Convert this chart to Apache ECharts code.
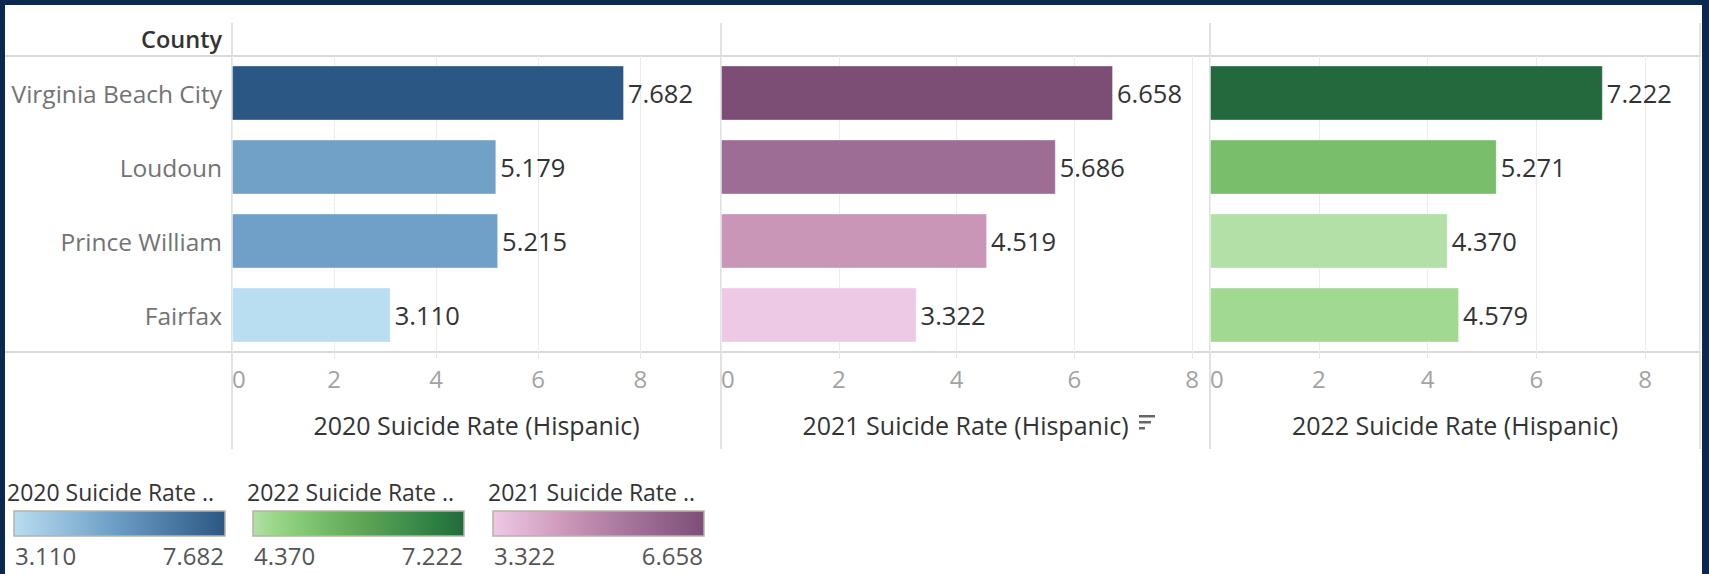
<!DOCTYPE html>
<html>
<head>
<meta charset="utf-8">
<script src="https://cdn.jsdelivr.net/npm/echarts@6/dist/echarts.min.js"></script>
<style>
  html, body { margin: 0; padding: 0; background: #0b2851; }
  body { width: 1709px; height: 574px; position: relative; overflow: hidden; }
  #main { position: absolute; left: 5px; top: 5px; width: 1697px; height: 569px; background: #fff; }
</style>
</head>
<body>
<div id="main"></div>
<script>
// data
const counties = ["Virginia Beach City", "Loudoun", "Prince William", "Fairfax"];
const rate2020 = [7.682, 5.179, 5.215, 3.110];
const rate2021 = [6.658, 5.686, 4.519, 3.322];
const rate2022 = [7.222, 5.271, 4.370, 4.579];
const axisTitles = ["2020 Suicide Rate (Hispanic)", "2021 Suicide Rate (Hispanic)", "2022 Suicide Rate (Hispanic)"];
const legendTitles = ["2020 Suicide Rate ..", "2022 Suicide Rate ..", "2021 Suicide Rate .."];

// tableau-ish sequential palettes
const blues = ["#b9ddf1", "#6a9bc3", "#2a5783"];
const purples = ["#eec9e5", "#cd99ba", "#a3729a", "#7c4e76"];
const greens = ["#b3e0a6", "#98d687", "#85ca77", "#75bc69", "#67af5c", "#59a253", "#49964f", "#398949", "#2b7c40", "#24693d"];

const FONT = "Open Sans";
const lineColor = "#d9d9d9";

const panels = [
  { vals: rate2020, pal: blues, left: 227, width: 489 },
  { vals: rate2021, pal: purples, left: 716, width: 489 },
  { vals: rate2022, pal: greens, left: 1205, width: 490 },
];
const gridTop = 51, gridH = 296;

let chart = echarts.init(document.getElementById("main"), null, { renderer: "svg" });

let grids = [], xAxes = [], yAxes = [], series = [], visualMaps = [];
panels.forEach(function (p, i) {
  let mx = Math.max.apply(null, p.vals);
  let mn = Math.min.apply(null, p.vals);
  grids.push({ left: p.left, top: gridTop, width: p.width, height: gridH });
  xAxes.push({
    type: "value",
    gridIndex: i,
    min: 0,
    max: mx * 1.2474,
    interval: 2,
    name: axisTitles[i],
    nameLocation: "middle",
    nameGap: 60,
    nameTextStyle: { color: "#333", fontSize: 25, fontFamily: FONT },
    axisLine: { show: false },
    axisTick: { show: true, length: 7, lineStyle: { color: "#e6e6e6" } },
    axisLabel: {
      color: "#a3a3a3",
      fontSize: 24,
      fontFamily: FONT,
      margin: 14,
      showMaxLabel: false,
      alignMinLabel: "left",
    },
    splitLine: { lineStyle: { color: "#ececec", width: 1 } },
  });
  yAxes.push({
    type: "category",
    gridIndex: i,
    inverse: true,
    data: counties,
    axisLine: { show: false },
    axisTick: { show: false },
    axisLabel: {
      show: i === 0,
      color: "#737373",
      fontSize: 24.5,
      fontFamily: FONT,
      margin: 10,
    },
  });
  series.push({
    type: "bar",
    xAxisIndex: i,
    yAxisIndex: i,
    barWidth: 55,
    encode: { x: 0, y: 1 },
    data: p.vals.map(function (v, k) { return [v, counties[k]]; }),
    itemStyle: { borderColor: "rgba(255,255,255,0.35)", borderWidth: 1 },
    label: {
      show: true,
      position: "right",
      distance: 4,
      color: "#333",
      fontSize: 25.5,
      fontFamily: FONT,
      formatter: function (d) { return d.value[0].toFixed(3); },
    },
    animation: false,
  });
  visualMaps.push({
    type: "continuous",
    show: false,
    seriesIndex: i,
    dimension: 0,
    min: mn,
    max: mx,
    inRange: { color: p.pal },
  });
});

// frame lines
let g = [];
g.push({ type: "line", shape: { x1: 0, y1: gridTop, x2: 1695, y2: gridTop }, style: { stroke: lineColor, lineWidth: 2 } });
g.push({ type: "line", shape: { x1: 0, y1: gridTop + gridH, x2: 1695, y2: gridTop + gridH }, style: { stroke: lineColor, lineWidth: 2 } });
[227, 716, 1205, 1695].forEach(function (x) {
  g.push({ type: "line", shape: { x1: x, y1: 18, x2: x, y2: 444 }, style: { stroke: lineColor, lineWidth: 1.5 } });
});
g.push({
  type: "text", x: 217, y: 34,
  style: { text: "County", fill: "#333", font: "600 23.5px '" + FONT + "'", textAlign: "right", textVerticalAlign: "middle" },
});

// sort icon next to 2021 title
[[16, 410], [12, 416], [6, 422]].forEach(function (r) {
  g.push({ type: "rect", shape: { x: 1134, y: r[1], width: r[0], height: 2.5 }, style: { fill: "#666" } });
});

// colour legends
const legendPanels = [
  { title: legendTitles[0], vals: rate2020, pal: blues, tx: 2, bx: 9 },
  { title: legendTitles[1], vals: rate2022, pal: greens, tx: 242, bx: 248 },
  { title: legendTitles[2], vals: rate2021, pal: purples, tx: 483, bx: 488 },
];
legendPanels.forEach(function (l) {
  let mn = Math.min.apply(null, l.vals), mx = Math.max.apply(null, l.vals);
  let stops = l.pal.map(function (c, k) { return { offset: k / (l.pal.length - 1), color: c }; });
  g.push({
    type: "text", x: l.tx, y: 487,
    style: { text: l.title, fill: "#333", font: "23px '" + FONT + "'", textAlign: "left", textVerticalAlign: "middle" },
  });
  g.push({
    type: "rect", shape: { x: l.bx, y: 506, width: 211, height: 25 },
    style: { fill: { type: "linear", x: 0, y: 0, x2: 1, y2: 0, colorStops: stops }, stroke: "#b8b3a8", lineWidth: 1.5 },
  });
  g.push({
    type: "text", x: l.bx + 1, y: 550,
    style: { text: mn.toFixed(3), fill: "#555", font: "24px '" + FONT + "'", textAlign: "left", textVerticalAlign: "middle" },
  });
  g.push({
    type: "text", x: l.bx + 210, y: 550,
    style: { text: mx.toFixed(3), fill: "#555", font: "24px '" + FONT + "'", textAlign: "right", textVerticalAlign: "middle" },
  });
});

let option = {
  animation: false,
  backgroundColor: "#fff",
  grid: grids,
  xAxis: xAxes,
  yAxis: yAxes,
  visualMap: visualMaps,
  series: series,
  graphic: { elements: g },
};
chart.setOption(option);
</script>
</body>
</html>
